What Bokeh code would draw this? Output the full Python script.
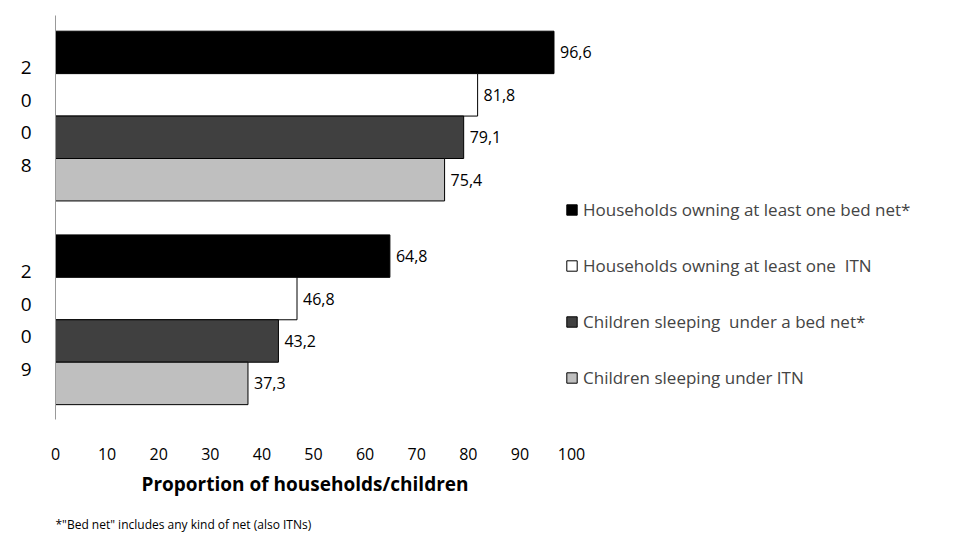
from bokeh.plotting import figure
from bokeh.models import Range1d, Legend, LegendItem, Title, FixedTicker, ColumnDataSource
from bokeh.embed import file_html
from bokeh.resources import INLINE
from bokeh.core.properties import value

years = ["2008", "2009"]
series = ["Households owning at least one bed net*", "Households owning at least one  ITN",
          "Children sleeping  under a bed net*", "Children sleeping under ITN"]
vals_2008 = [96.6, 81.8, 79.1, 75.4]
vals_2009 = [64.8, 46.8, 43.2, 37.3]
colors = ["#000000", "#ffffff", "#404040", "#bfbfbf"]
xticks = [0, 10, 20, 30, 40, 50, 60, 70, 80, 90, 100]
FONT = "Open Sans"

p = figure(width=946, height=543, output_backend="svg", toolbar_location=None,
           x_range=Range1d(0, 171.5), y_range=Range1d(8.65, -0.87),
           min_border_left=55, min_border_right=6, min_border_top=15, min_border_bottom=20)
p.outline_line_color = None
p.grid.visible = False

group_off = [0, 4.8]
items = []
for i, name in enumerate(series):
    ys = [group_off[0] + i, group_off[1] + i]
    xs = [vals_2008[i], vals_2009[i]]
    src = ColumnDataSource(dict(y=ys, right=xs, lab=[f"{v:.1f}".replace(".", ",") for v in xs]))
    r = p.hbar(y="y", left=0, right="right", height=1.0, source=src,
               fill_color=colors[i], line_color="black", line_width=1)
    p.text(x="right", y="y", text="lab", source=src, x_offset=6, text_baseline="middle",
           text_font=value(FONT), text_font_size="16px", text_color="black")
    items.append(LegendItem(label=name, renderers=[r]))

legend = Legend(items=items, location=(510, 30), orientation="vertical",
                label_text_font=FONT, label_text_font_size="17px",
                glyph_width=13, glyph_height=13, label_height=20, spacing=33,
                padding=0, margin=0, background_fill_alpha=0, border_line_color=None)
p.add_layout(legend, "center")

p.xaxis.ticker = FixedTicker(ticks=xticks)
p.xaxis.axis_line_color = None
p.xaxis.major_tick_line_color = None
p.xaxis.minor_tick_line_color = None
p.xaxis.major_label_text_font = FONT
p.xaxis.major_label_text_font_size = "16px"
p.xaxis.major_label_text_color = "black"
p.xaxis.major_label_standoff = 22

p.add_layout(Title(text="Proportion of households/children", align="left", offset=86,
                   text_font=FONT, text_font_style="bold", text_font_size="19px",
                   text_color="black", standoff=12), "below")
p.add_layout(Title(text='*"Bed net" includes any kind of net (also ITNs)', align="left", offset=0,
                   text_font=FONT, text_font_style="normal", text_font_size="12px",
                   text_color="black", standoff=22), "below")

p.yaxis.ticker = FixedTicker(ticks=[g + 1.5 for g in group_off])
p.yaxis.major_label_overrides = {g + 1.5: "\n".join(y) for g, y in zip(group_off, years)}
p.yaxis.major_tick_line_color = None
p.yaxis.minor_tick_line_color = None
p.yaxis.axis_line_color = "#999999"
p.yaxis.major_label_text_font = FONT
p.yaxis.major_label_text_font_size = "19px"
p.yaxis.major_label_text_color = "black"
p.yaxis.major_label_text_line_height = 1.25
p.yaxis.major_label_standoff = 18

open("out.html", "w").write(file_html(p, INLINE))
